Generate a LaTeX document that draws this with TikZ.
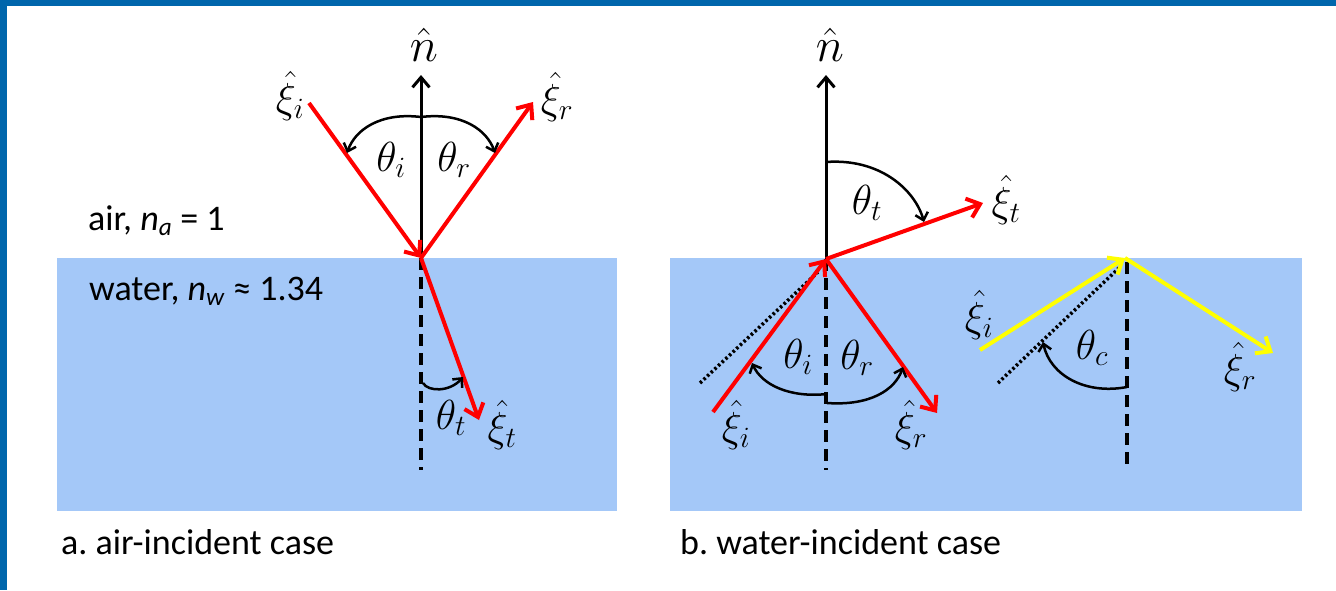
\RequirePackage{fix-cm}
\documentclass[tikz,border=0pt]{standalone}
\usepackage{fontspec}
\newfontfamily\calibri{Carlito}
\usetikzlibrary{arrows.meta}
\definecolor{framebl}{RGB}{0,102,172}
\definecolor{water}{RGB}{164,200,248}
\definecolor{rayred}{RGB}{255,0,0}
\definecolor{rayyel}{RGB}{255,255,0}
\frenchspacing
\begin{document}
\begin{tikzpicture}[x=1pt,y=-1pt,
  redray/.style={draw=rayred, line width=4pt, -{Straight Barb[length=12pt,width=20pt]}},
  yelray/.style={draw=rayyel, line width=4pt, -{Straight Barb[length=12pt,width=20pt]}},
  normalax/.style={draw=black, line width=3pt, -{Straight Barb[length=10pt,width=17pt]}},
  arcarrow/.style={draw=black, line width=2.5pt, -{Straight Barb[length=7pt,width=13pt]}},
  dashax/.style={draw=black, line width=3.5pt, dash pattern=on 12pt off 7pt},
  dotax/.style={draw=black, line width=3.5pt, dash pattern=on 2.5pt off 2.5pt},
  mlab/.style={inner sep=0pt, font=\fontsize{42}{42}\selectfont},
  nlab/.style={inner sep=0pt, font=\fontsize{48}{48}\selectfont},
  txt/.style={inner sep=0pt, anchor=base west, font=\calibri\fontsize{36}{36}\selectfont}
]
\useasboundingbox (0,0) rectangle (1336,590);
\fill[white] (0,0) rectangle (1336,590);
\fill[framebl] (0,0) rectangle (1336,6);
\fill[framebl] (0,0) rectangle (7,590);
% water
\fill[water] (57,258) rectangle (617,511);
\fill[water] (670,258) rectangle (1302,511);

% ---------- panel a ----------
\coordinate (oa) at (421,258);
\coordinate (na) at (421,75);
\coordinate (ai) at (309,103);
\coordinate (ar) at (533,102);
\coordinate (at) at (479,420);
\coordinate (ad) at (421,470);
\coordinate (aarc) at (421,117);
\coordinate (aarci) at (347,153);
\coordinate (aarcr) at (495,153);
\coordinate (atarc1) at (423,383);
\coordinate (atarc2) at (463,377);
\draw[dashax] (oa) -- (ad);
\draw[normalax] (oa) -- (na);
\draw[redray] (ai) -- (oa);
\draw[redray] (oa) -- (ar);
\draw[redray] (oa) -- (at);
\draw[arcarrow] (aarc) .. controls (380,112) and (355,130) .. (aarci);
\draw[arcarrow] (aarc) .. controls (462,112) and (487,130) .. (aarcr);
\draw[arcarrow] (atarc1) .. controls (428,392) and (450,392) .. (atarc2);
\node[nlab] (lna) at (424,45) {$\hat{n}$};
\node[mlab] (lai) at (290,96) {$\hat{\xi}_i$};
\node[mlab] (lar) at (557,97) {$\hat{\xi}_r$};
\node[mlab] (lthi) at (391,160) {$\theta_i$};
\node[mlab] (lthr) at (454,160) {$\theta_r$};
\node[mlab] (ltht) at (451,418) {$\theta_t$};
\node[mlab] (lat) at (502,425) {$\hat{\xi}_t$};
\node[txt] (air) at (88,230) {air, \textit{n}\textsubscript{\textit{a}} = 1};
\node[txt] (wat) at (89,300) {water, \textit{n}\textsubscript{\textit{w}} ≈ 1.34};
\node[txt] (capa) at (61,554) {a. air-incident case};

% ---------- panel b ----------
\coordinate (ob) at (826,259);
\coordinate (nb) at (826,75);
\coordinate (bt) at (983,203);
\coordinate (bi) at (713,412);
\coordinate (br) at (937,413);
\coordinate (bd) at (826,470);
\coordinate (bdot1) at (700,383);
\coordinate (bdot2) at (818,272);
\coordinate (btarc1) at (826,162);
\coordinate (btarc2) at (924,222);
\coordinate (biarc1) at (827,394);
\coordinate (biarc2) at (752,363);
\coordinate (brarc1) at (827,403);
\coordinate (brarc2) at (903,367);
\draw[dashax] (ob) -- (bd);
\draw[dotax] (bdot1) -- (bdot2);
\draw[normalax] (ob) -- (nb);
\draw[redray] (bi) -- (ob);
\draw[redray] (ob) -- (br);
\draw[redray] (ob) -- (bt);
\draw[arcarrow] (btarc1) .. controls (880,158) and (915,190) .. (btarc2);
\draw[arcarrow] (biarc1) .. controls (790,398) and (762,385) .. (biarc2);
\draw[arcarrow] (brarc1) .. controls (870,406) and (895,390) .. (brarc2);
\node[nlab] (lnb) at (830,45) {$\hat{n}$};
\node[mlab] (lbt) at (1006,200) {$\hat{\xi}_t$};
\node[mlab] (lbtht) at (867,203) {$\theta_t$};
\node[mlab] (lbthi) at (798,357) {$\theta_i$};
\node[mlab] (lbthr) at (857,358) {$\theta_r$};
\node[mlab] (lbi) at (736,425) {$\hat{\xi}_i$};
\node[mlab] (lbr) at (911,425) {$\hat{\xi}_r$};

% critical-angle case
\coordinate (oc) at (1125,258);
\coordinate (ci) at (980,350);
\coordinate (cr) at (1273,353);
\coordinate (cd1) at (1127,262);
\coordinate (cd2) at (1127,470);
\coordinate (cdot1) at (998,383);
\coordinate (cdot2) at (1120,267);
\coordinate (ccarc1) at (1127,387);
\coordinate (ccarc2) at (1043,342);
\draw[dashax] (cd1) -- (cd2);
\draw[dotax] (cdot1) -- (cdot2);
\draw[yelray] (ci) -- (oc);
\draw[yelray] (oc) -- (cr);
\draw[arcarrow] (ccarc1) .. controls (1085,395) and (1050,375) .. (ccarc2);
\node[mlab] (lcth) at (1092,348) {$\theta_c$};
\node[mlab] (lci) at (979,315) {$\hat{\xi}_i$};
\node[mlab] (lcr) at (1240,367) {$\hat{\xi}_r$};
\node[txt] (capb) at (680,554) {b. water-incident case};
\end{tikzpicture}
\end{document}
